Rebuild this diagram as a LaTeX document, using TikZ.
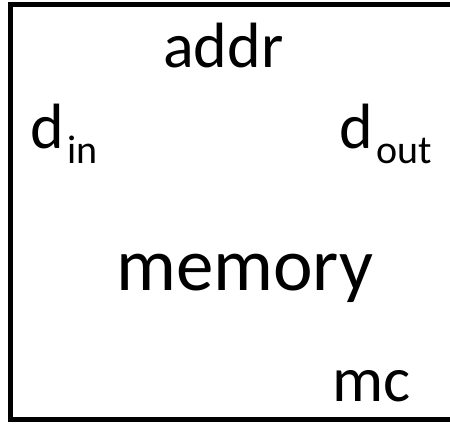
\documentclass[tikz,border=0pt]{standalone}
\usepackage{fontspec}
\setmainfont{Carlito}
\newcommand{\subtxt}[1]{\kern4pt\raisebox{-15pt}{\fontsize{40}{40}\selectfont #1}}
\begin{document}
\begin{tikzpicture}[x=1pt,y=-1pt,
  lbl/.style={inner sep=0pt,anchor=base west,font=\fontsize{64}{64}\selectfont},
  big/.style={inner sep=0pt,anchor=base west,font=\fontsize{75}{75}\selectfont}]
\useasboundingbox (0,0) rectangle (450,426);
% block outline, right side runs past the edge
\draw[line width=5pt] (470,4.5) -- (10.5,4.5) -- (10.5,419.5) -- (470,419.5);
\node[lbl] (addr) at (163,67) {addr};
\node[lbl] (din) at (30,148) {d\subtxt{in}};
\node[lbl] (dout) at (339,148) {d\subtxt{out}};
\node[big] (mem) at (116,290) {memory};
\node[lbl] (mc) at (332,401) {mc};
\end{tikzpicture}
\end{document}
